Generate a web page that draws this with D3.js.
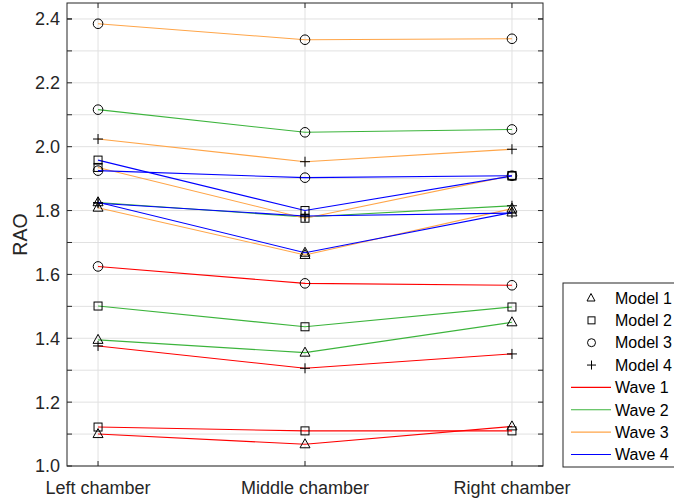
<!DOCTYPE html>
<html>
<head>
<meta charset="utf-8">
<script src="https://cdn.jsdelivr.net/npm/d3@7"></script>
<style>
  html, body { margin: 0; padding: 0; background: #fff; }
  svg { display: block; font-family: "Liberation Sans", Arial, Helvetica, sans-serif; }
</style>
</head>
<body>
<svg id="chart" width="674" height="501"></svg>
<script>
// ---- data ----
const categories = ["Left chamber", "Middle chamber", "Right chamber"];
const modelNames = ["Model 1", "Model 2", "Model 3", "Model 4"];
const waveNames = ["Wave 1", "Wave 2", "Wave 3", "Wave 4"];
const yTicks = [1.0, 1.2, 1.4, 1.6, 1.8, 2.0, 2.2, 2.4];
// rows: Model 1..4, columns: Left, Middle, Right
const wave1 = [
  [1.100, 1.068, 1.124],
  [1.122, 1.110, 1.110],
  [1.625, 1.572, 1.566],
  [1.376, 1.306, 1.351]
];
const wave2 = [
  [1.395, 1.355, 1.450],
  [1.501, 1.436, 1.498],
  [2.116, 2.045, 2.054],
  [1.825, 1.780, 1.815]
];
const wave3 = [
  [1.809, 1.661, 1.806],
  [1.935, 1.776, 1.910],
  [2.385, 2.335, 2.338],
  [2.024, 1.953, 1.992]
];
const wave4 = [
  [1.826, 1.668, 1.794],
  [1.958, 1.800, 1.908],
  [1.925, 1.903, 1.909],
  [1.823, 1.783, 1.792]
];
const waveColors = ["#ff0000", "#3cb43c", "#ffa548", "#0000ff"];

// ---- layout ----
const svg = d3.select("#chart");
const L = 67, R = 543, T = 3, B = 466;
const x = d3.scaleLinear().domain([0.85, 3.15]).range([L, R]);
const y = d3.scaleLinear().domain([1.0, 2.45]).range([B, T]);
const axisColor = "#262626";
const gridColor = "#e1e1e1";

// grid
const minor = d3.range(10, 25).map(d => d / 10);
svg.append("g").selectAll("line").data(minor).join("line")
  .attr("x1", L).attr("x2", R)
  .attr("y1", d => y(d)).attr("y2", d => y(d))
  .attr("stroke", gridColor).attr("stroke-width", 1);
svg.append("g").selectAll("line").data(categories).join("line")
  .attr("x1", (d, i) => x(i + 1)).attr("x2", (d, i) => x(i + 1))
  .attr("y1", T).attr("y2", B)
  .attr("stroke", gridColor).attr("stroke-width", 1);

// series
const waves = [wave1, wave2, wave3, wave4];
const line = d3.line().x((d, i) => x(i + 1)).y(d => y(d));
const sym = [d3.symbolTriangle, d3.symbolSquare, d3.symbolCircle, d3.symbolCross];

function drawMarker(g, m, cx, cy) {
  if (m === 0) {
    g.append("path").attr("d", `M${cx},${cy - 5.5}L${cx + 5},${cy + 3.5}L${cx - 5},${cy + 3.5}Z`)
      .attr("fill", "none").attr("stroke", "#000").attr("stroke-width", 1);
  } else if (m === 1) {
    g.append("rect").attr("x", cx - 4).attr("y", cy - 4).attr("width", 8).attr("height", 8)
      .attr("fill", "none").attr("stroke", "#000").attr("stroke-width", 1);
  } else if (m === 2) {
    g.append("circle").attr("cx", cx).attr("cy", cy).attr("r", 4.8)
      .attr("fill", "none").attr("stroke", "#000").attr("stroke-width", 1);
  } else {
    g.append("path").attr("d", `M${cx - 5},${cy}H${cx + 5}M${cx},${cy - 5}V${cy + 5}`)
      .attr("fill", "none").attr("stroke", "#000").attr("stroke-width", 1);
  }
}

const sg = svg.append("g");
waves.forEach((w, wi) => {
  w.forEach((vals, mi) => {
    const g = sg.append("g");
    g.append("path").attr("d", line(vals)).attr("fill", "none")
      .attr("stroke", waveColors[wi]).attr("stroke-width", 1.1);
    vals.forEach((v, i) => drawMarker(g, mi, x(i + 1), y(v)));
  });
});

// axes box
svg.append("rect").attr("x", L).attr("y", T).attr("width", R - L).attr("height", B - T)
  .attr("fill", "none").attr("stroke", axisColor).attr("stroke-width", 1);

// ticks (inside)
const tk = svg.append("g").attr("stroke", axisColor).attr("stroke-width", 1);
minor.concat([2.4]).forEach(d => {
  tk.append("line").attr("x1", L).attr("x2", L + 5).attr("y1", y(d)).attr("y2", y(d));
  tk.append("line").attr("x1", R).attr("x2", R - 5).attr("y1", y(d)).attr("y2", y(d));
});
categories.forEach((c, i) => {
  tk.append("line").attr("x1", x(i + 1)).attr("x2", x(i + 1)).attr("y1", B).attr("y2", B - 5);
  tk.append("line").attr("x1", x(i + 1)).attr("x2", x(i + 1)).attr("y1", T).attr("y2", T + 5);
});

// tick labels
svg.append("g").selectAll("text").data(yTicks).join("text")
  .attr("x", 60).attr("y", d => y(d)).attr("dy", "0.36em")
  .attr("text-anchor", "end").attr("font-size", 18).attr("fill", axisColor)
  .text(d => d.toFixed(1));
svg.append("g").selectAll("text").data(categories).join("text")
  .attr("x", (d, i) => x(i + 1)).attr("y", 494)
  .attr("text-anchor", "middle").attr("font-size", 18).attr("fill", axisColor)
  .text(d => d);

// y label
svg.append("text").attr("transform", `translate(27,${(T + B) / 2}) rotate(-90)`)
  .attr("text-anchor", "middle").attr("font-size", 19.5).attr("fill", axisColor)
  .text("RAO");

// legend
const lg = svg.append("g");
lg.append("rect").attr("x", 563).attr("y", 283).attr("width", 130).attr("height", 184)
  .attr("fill", "#fff").attr("stroke", axisColor).attr("stroke-width", 1);
const rowY = i => 298 + i * 22.35;
modelNames.forEach((n, i) => {
  const g = lg.append("g");
  const cy = rowY(i);
  if (i === 0) {
    g.append("path").attr("d", `M591,${cy - 4.5}L595,${cy + 3}L587,${cy + 3}Z`)
      .attr("fill", "none").attr("stroke", "#000");
  } else if (i === 1) {
    g.append("rect").attr("x", 588).attr("y", cy - 3.5).attr("width", 7).attr("height", 7)
      .attr("fill", "none").attr("stroke", "#000");
  } else if (i === 2) {
    g.append("circle").attr("cx", 591.5).attr("cy", cy).attr("r", 4)
      .attr("fill", "none").attr("stroke", "#000");
  } else {
    g.append("path").attr("d", `M587,${cy}H596M591.5,${cy - 4.5}V${cy + 4.5}`)
      .attr("fill", "none").attr("stroke", "#000");
  }
  g.append("text").attr("x", 615).attr("y", cy).attr("dy", "0.36em")
    .attr("font-size", 16).attr("fill", "#000").text(n);
});
waveNames.forEach((n, i) => {
  const cy = rowY(i + 4);
  lg.append("line").attr("x1", 571).attr("x2", 611).attr("y1", cy).attr("y2", cy)
    .attr("stroke", waveColors[i]).attr("stroke-width", 1.1);
  lg.append("text").attr("x", 615).attr("y", cy).attr("dy", "0.36em")
    .attr("font-size", 16).attr("fill", "#000").text(n);
});
</script>
</body>
</html>
